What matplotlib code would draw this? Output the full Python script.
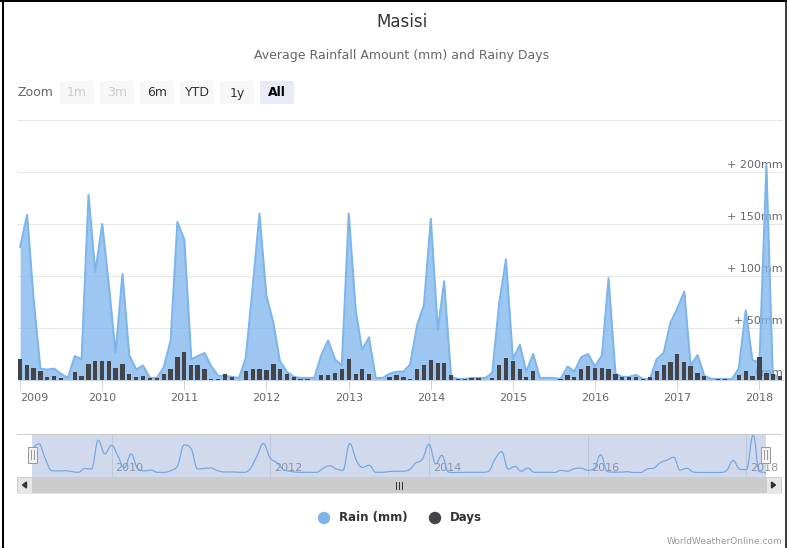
import datetime as dt
import numpy as np
import matplotlib
matplotlib.use('Agg')
import matplotlib.pyplot as plt
import matplotlib.dates as mdates
import matplotlib.transforms as mtransforms
from matplotlib.patches import Rectangle, FancyBboxPatch, Circle, PathPatch, Polygon
from matplotlib.path import Path

plt.rcParams['font.family'] = ['DejaVu Sans']

# ---------------- data (monthly, Jan 2009 .. Apr 2018) ----------------
start_year = 2009
rain_2009 = [128, 159, 80, 11, 10, 11, 6, 2, 23, 20, 178, 104]
rain_2010 = [150, 88, 26, 102, 24, 10, 14, 2, 2, 12, 38, 152]
rain_2011 = [135, 20, 23, 26, 13, 4, 4, 3, 2, 21, 90, 160]
rain_2012 = [81, 55, 18, 8, 3, 2, 2, 2, 24, 38, 20, 14]
rain_2013 = [160, 67, 29, 41, 2, 2, 6, 8, 8, 15, 53, 72]
rain_2014 = [155, 48, 95, 3, 1, 1, 2, 2, 2, 7, 74, 116]
rain_2015 = [20, 34, 8, 25, 2, 2, 2, 1, 13, 8, 22, 25]
rain_2016 = [13, 24, 98, 6, 3, 3, 5, 1, 1, 20, 26, 55]
rain_2017 = [69, 85, 14, 24, 4, 1, 1, 1, 1, 11, 67, 19]
rain_2018 = [17, 207, 6, 1]

days_2009 = [20, 14, 12, 9, 3, 4, 2, 0, 8, 4, 15, 18]
days_2010 = [18, 18, 12, 15, 6, 3, 4, 2, 2, 6, 11, 22]
days_2011 = [27, 14, 14, 11, 1, 1, 6, 3, 0, 9, 11, 11]
days_2012 = [10, 15, 11, 6, 3, 1, 1, 0, 5, 5, 7, 11]
days_2013 = [20, 6, 11, 6, 0, 0, 3, 5, 3, 1, 11, 14]
days_2014 = [19, 16, 16, 5, 1, 1, 2, 2, 0, 2, 14, 21]
days_2015 = [18, 11, 3, 9, 0, 0, 0, 1, 5, 3, 11, 13]
days_2016 = [12, 12, 11, 6, 3, 3, 3, 1, 3, 9, 14, 17]
days_2017 = [25, 17, 13, 7, 4, 0, 1, 1, 0, 5, 9, 4]
days_2018 = [22, 7, 6, 4]

rain = (rain_2009 + rain_2010 + rain_2011 + rain_2012 + rain_2013 +
        rain_2014 + rain_2015 + rain_2016 + rain_2017 + rain_2018)
days = (days_2009 + days_2010 + days_2011 + days_2012 + days_2013 +
        days_2014 + days_2015 + days_2016 + days_2017 + days_2018)

year_ticks = [2009, 2010, 2011, 2012, 2013, 2014, 2015, 2016, 2017, 2018]
nav_years = [2010, 2012, 2014, 2016, 2018]
y_ticks = [0, 50, 100, 150, 200, 250]
y_labels = {0: '0mm', 50: '+ 50mm', 100: '+ 100mm', 150: '+ 150mm', 200: '+ 200mm'}
zoom_buttons = ['1m', '3m', '6m', 'YTD', '1y', 'All']

months = [dt.date(start_year + i // 12, i % 12 + 1, 1) for i in range(len(rain))]
x = mdates.date2num(months)
rain = np.array(rain, float)
days = np.array(days, float)

# ---------------- figure ----------------
W, H = 787, 548
PX = 0.72  # points per pixel
fig = plt.figure(figsize=(W / 100, H / 100), dpi=100)
fig.patch.set_facecolor('white')

# main plot
ax = fig.add_axes([18 / W, 1 - 380 / H, 765 / W, 261 / H])
x0 = mdates.date2num(dt.date(2009, 1, 1))
x1 = mdates.date2num(dt.date(2018, 4, 1))
ax.set_xlim(x0 - 9.6, x1 + 14.7)
ax.set_ylim(0, 250 * 261 / 260)

ax.fill_between(x, rain, 0, color='#7cb5ec', alpha=0.75, lw=0, zorder=2)
ax.plot(x, rain, color='#7cb5ec', lw=2 * PX, zorder=3, solid_joinstyle='round')

ax2 = ax.twinx()
ax2.set_ylim(0, 250 * 261 / 260)
ax2.bar(x, days, width=19, color='#434348', lw=0, zorder=4)
ax2.set_axis_off()

ax.set_yticks(y_ticks)
ax.yaxis.grid(True, color='#e6e6e6', lw=1 * PX, zorder=0)
ax.set_axisbelow(True)
ax.tick_params(axis='y', left=False, right=False, labelleft=False, labelright=False)
for s in ['top', 'right', 'left']:
    ax.spines[s].set_visible(False)
ax.spines['bottom'].set_color('#ccd6eb')
ax.spines['bottom'].set_linewidth(1 * PX)

ytrans = mtransforms.offset_copy(mtransforms.blended_transform_factory(ax.transAxes, ax.transData),
                                 fig=fig, x=0, y=7, units='dots')
for v, lab in y_labels.items():
    ax.text(1.0, v, lab, transform=ytrans, ha='right', va='center', fontsize=8,
            color='#666666', zorder=1)

ax.set_xticks([mdates.date2num(dt.date(y, 1, 1)) for y in year_ticks])
ax.set_xticklabels([str(y) for y in year_ticks])
ax.tick_params(axis='x', length=10 * PX, width=1 * PX, color='#ccd6eb',
               labelcolor='#666666', labelsize=8, pad=2)
lbl0 = ax.get_xticklabels()[0]
lbl0.set_ha('left')

# navigator
nav = fig.add_axes([32.2 / W, 1 - 477 / H, 733.8 / W, 43 / H])
nav.set_xlim(x0, x1)
nav.set_ylim(-23.6, 212)
nav.set_axis_off()
for yv in nav_years:
    xd = mdates.date2num(dt.date(yv, 1, 1))
    nav.axvline(xd, color='#e6e6e6', lw=1 * PX, zorder=1)
    nav.text(xd, 0.21, str(yv), transform=mtransforms.offset_copy(
        mtransforms.blended_transform_factory(nav.transData, nav.transAxes),
        fig=fig, x=4, y=0, units='dots'),
        ha='left', va='center', fontsize=8, color='#999999', zorder=2, clip_on=False)

# Highcharts-like spline for the navigator series
n = len(x)
lcx = x.copy(); lcy = rain.copy(); rcx = x.copy(); rcy = rain.copy()
sm, den = 1.5, 2.5
for i in range(1, n - 1):
    px_, py_ = x[i], rain[i]
    lx, ly = x[i - 1], rain[i - 1]
    nx, ny = x[i + 1], rain[i + 1]
    lcx_ = (sm * px_ + lx) / den; lcy_ = (sm * py_ + ly) / den
    rcx_ = (sm * px_ + nx) / den; rcy_ = (sm * py_ + ny) / den
    if rcx_ != lcx_:
        corr = (rcy_ - lcy_) * (rcx_ - px_) / (rcx_ - lcx_) + py_ - rcy_
        lcy_ += corr; rcy_ += corr
    if lcy_ > ly and lcy_ > py_:
        lcy_ = max(ly, py_); rcy_ = 2 * py_ - lcy_
    elif lcy_ < ly and lcy_ < py_:
        lcy_ = min(ly, py_); rcy_ = 2 * py_ - lcy_
    if rcy_ > ny and rcy_ > py_:
        rcy_ = max(ny, py_); lcy_ = 2 * py_ - rcy_
    elif rcy_ < ny and rcy_ < py_:
        rcy_ = min(ny, py_); lcy_ = 2 * py_ - rcy_
    lcx[i], lcy[i], rcx[i], rcy[i] = lcx_, lcy_, rcx_, rcy_
verts = [(x[0], rain[0])]
codes = [Path.MOVETO]
for i in range(1, n):
    verts += [(rcx[i - 1], rcy[i - 1]), (lcx[i], lcy[i]), (x[i], rain[i])]
    codes += [Path.CURVE4] * 3
nav.add_patch(PathPatch(Path(verts, codes), fill=False, edgecolor='#7cb5ec',
                        lw=1.2 * PX, zorder=3))
nav.axvspan(x0, x1, color=(102 / 255, 133 / 255, 194 / 255), alpha=0.3, lw=0, zorder=5)

# ---------------- overlay for chrome ----------------
ov = fig.add_axes([0, 0, 1, 1], zorder=20)
ov.set_xlim(0, W); ov.set_ylim(H, 0)
ov.set_axis_off()
ov.patch.set_alpha(0)

# frame
ov.plot([3, 3], [0, H], color='black', lw=2 * PX)
ov.plot([0, W], [1, 1], color='black', lw=2 * PX)
ov.plot([785.5, 785.5], [0, H], color='black', lw=1.5 * PX)

# titles
ov.text(402, 22, 'Masisi', ha='center', va='center', fontsize=12, color='#333333')
ov.text(402, 55, 'Average Rainfall Amount (mm) and Rainy Days', ha='center', va='center',
        fontsize=9, color='#666666')

# range selector
ov.text(18, 93, 'Zoom', ha='left', va='center', fontsize=9, color='#666666')
for k, lab in enumerate(zoom_buttons):
    bx = 60 + 40 * k
    sel = lab == 'All'
    dis = lab in ('1m', '3m')
    ov.add_patch(FancyBboxPatch((bx, 81), 34, 23, boxstyle='round,pad=0,rounding_size=2',
                                facecolor='#e6ebf5' if sel else '#f7f7f7', edgecolor='none'))
    ov.text(bx + 17, 93, lab, ha='center', va='center', fontsize=9,
            color='#cccccc' if dis else ('#000000' if sel else '#333333'),
            fontweight='bold' if sel else 'normal')

# navigator outline and handles
ov.plot([17, 781], [434, 434], color='#cccccc', lw=1 * PX)
for hx in (32.5, 765.5):
    ov.add_patch(Rectangle((hx - 4.5, 446.5), 9, 16, facecolor='#f2f2f2',
                           edgecolor='#999999', lw=1 * PX))
    ov.plot([hx - 1.5, hx - 1.5], [450, 459], color='#999999', lw=1 * PX)
    ov.plot([hx + 1.5, hx + 1.5], [450, 459], color='#999999', lw=1 * PX)

# scrollbar
ov.add_patch(Rectangle((17, 477), 764, 16, facecolor='#f2f2f2', edgecolor='#f2f2f2', lw=0))
ov.add_patch(Rectangle((32, 477), 734, 16, facecolor='#cccccc', edgecolor='#cccccc', lw=1 * PX))
for bx in (17, 766):
    ov.add_patch(Rectangle((bx, 477), 15, 16, facecolor='#e6e6e6', edgecolor='#cccccc', lw=1 * PX))
ov.add_patch(Polygon([[26.5, 482], [26.5, 488], [22.5, 485]], closed=True, color='#333333'))
ov.add_patch(Polygon([[771.5, 482], [771.5, 488], [775.5, 485]], closed=True, color='#333333'))
for gx in (395.5, 398.5, 401.5):
    ov.plot([gx, gx], [481.5, 488.5], color='#333333', lw=1 * PX)
ov.plot([17, 781], [493, 493], color='#e6e6e6', lw=1 * PX)

# legend
ov.add_patch(Circle((324, 518), 5.5, color='#7cb5ec'))
ov.text(339, 518, 'Rain (mm)', ha='left', va='center', fontsize=8.5, fontweight='bold',
        color='#333333')
ov.add_patch(Circle((435, 518), 5.5, color='#434348'))
ov.text(450, 518, 'Days', ha='left', va='center', fontsize=8.5, fontweight='bold',
        color='#333333')

# credits
ov.text(782, 541, 'WorldWeatherOnline.com', ha='right', va='center', fontsize=6.5,
        color='#999999')

fig.savefig('out.png', dpi=100)
